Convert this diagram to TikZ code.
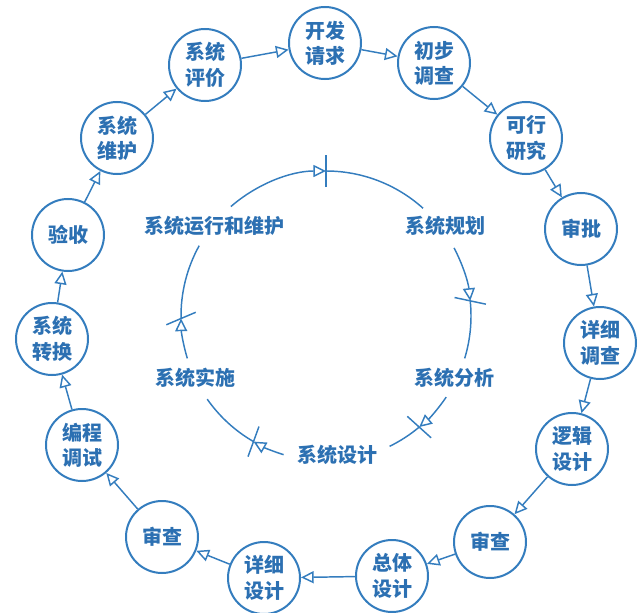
\documentclass[tikz,border=0pt]{standalone}
\usepackage{fontspec}
\newfontfamily\cjk{Noto Sans CJK SC}
\usetikzlibrary{arrows.meta}
\definecolor{lineblue}{RGB}{52,125,190}
\definecolor{textblue}{RGB}{44,112,178}
\tikzset{
  stage/.style={circle, draw=lineblue, line width=1.5pt, minimum size=54pt, inner sep=0pt,
    align=center, text=textblue, font=\cjk\bfseries\fontsize{15pt}{19pt}\selectfont},
  conn/.style={draw=lineblue, line width=1.1pt, -{Triangle[open, length=9.5pt, width=9pt, line width=1.1pt]}},
  phase/.style={text=textblue, font=\cjk\bfseries\fontsize{15pt}{17pt}\selectfont, inner sep=1pt},
  ring/.style={draw=lineblue, line width=1.1pt},
  ringarrow/.style={ring, -{Triangle[open, length=9.5pt, width=9pt, line width=1.1pt]}},
  tick/.style={draw=lineblue, line width=1.1pt}
}
\begin{document}
\begin{tikzpicture}[x=0.75pt,y=0.75pt]
\useasboundingbox (0,0) rectangle (639,612);
% outer stages
\node[stage] (s1) at (325,569) {开发\\请求};
\node[stage] (s2) at (434,549) {初步\\调查};
\node[stage] (s3) at (526,474) {可行\\研究};
\node[stage] (s4) at (581,383) {审批};
\node[stage] (s5) at (600,269) {详细\\调查};
\node[stage] (s6) at (572,163) {逻辑\\设计};
\node[stage] (s7) at (490,70) {审查};
\node[stage] (s8) at (392,36) {总体\\设计};
\node[stage] (s9) at (264,34) {详细\\设计};
\node[stage] (s10) at (162,75) {审查};
\node[stage] (s11) at (82,167) {编程\\调试};
\node[stage] (s12) at (52,273) {系统\\转换};
\node[stage] (s13) at (68,377) {验收};
\node[stage] (s14) at (117,474) {系统\\维护};
\node[stage] (s15) at (205,547) {系统\\评价};
\foreach \a/\b in {s1/s2,s2/s3,s3/s4,s4/s5,s5/s6,s6/s7,s7/s8,s8/s9,s9/s10,s10/s11,s11/s12,s12/s13,s13/s14,s14/s15,s15/s1}
  \draw[conn] (\a) -- (\b);
% inner cycle
\coordinate (c) at (326,296);
\node[phase] (p1) at (445,386) {系统规划};
\node[phase] (p2) at (454,234) {系统分析};
\node[phase] (p3) at (337,157) {系统设计};
\node[phase] (p4) at (195,234) {系统实施};
\node[phase] (p5) at (214,386) {系统运行和维护};
% arcs
\draw[ringarrow] (c) ++(131:145) arc[start angle=131, end angle=90, radius=108.75pt];
\draw[ring] (c) ++(90:145) arc[start angle=90, end angle=48, radius=108.75pt];
\draw[ringarrow] (c) ++(28:145) arc[start angle=28, end angle=6, radius=108.75pt];
\draw[ring] (c) ++(6:145) arc[start angle=6, end angle=-17, radius=108.75pt];
\draw[ringarrow] (c) ++(-34:145) arc[start angle=-34, end angle=-50, radius=108.75pt];
\draw[ring] (c) ++(-50:145) arc[start angle=-50, end angle=-64, radius=108.75pt];
\draw[ringarrow] (c) ++(-107:145) arc[start angle=-107, end angle=-120, radius=108.75pt];
\draw[ring] (c) ++(-120:145) arc[start angle=-120, end angle=-145, radius=108.75pt];
\draw[ringarrow] (c) ++(197:145) arc[start angle=197, end angle=181, radius=108.75pt];
\draw[ring] (c) ++(181:145) arc[start angle=181, end angle=151, radius=108.75pt];
% ticks
\foreach \t/\r in {90/0, 6/-18, -50/8, -120/10, 181/22}
  \draw[tick] (c) ++(\t:145) ++(\t+\r:-16) -- ++(\t+\r:32);
\end{tikzpicture}
\end{document}
